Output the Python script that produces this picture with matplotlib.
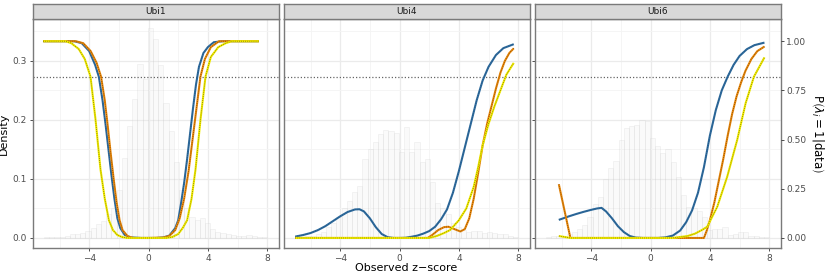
import numpy as np
import matplotlib.pyplot as plt

# facet titles
facets = ["Ubi1", "Ubi4", "Ubi6"]

# histogram bins (shared over facets), density values
bin_edges = np.arange(-7.05, 8.0 + 0.01, 0.35)
hist_ubi1 = [0.002, 0.001, 0.002, 0.002, 0.003, 0.006, 0.006, 0.008, 0.011, 0.017, 0.023,
             0.029, 0.040, 0.050, 0.081, 0.135, 0.190, 0.235, 0.295, 0.270, 0.355, 0.337,
             0.293, 0.228, 0.182, 0.129, 0.081, 0.050, 0.035, 0.031, 0.033, 0.025, 0.015,
             0.010, 0.008, 0.006, 0.005, 0.004, 0.003, 0.005, 0.003, 0.002, 0.001]
hist_ubi4 = [0.002, 0.002, 0.003, 0.004, 0.006, 0.010, 0.018, 0.025, 0.035, 0.050, 0.062,
             0.078, 0.088, 0.133, 0.150, 0.163, 0.177, 0.183, 0.182, 0.178, 0.146, 0.188,
             0.146, 0.163, 0.129, 0.133, 0.095, 0.060, 0.050, 0.040, 0.025, 0.018, 0.013,
             0.010, 0.012, 0.012, 0.008, 0.010, 0.008, 0.006, 0.006, 0.004, 0.002]
hist_ubi6 = [0.002, 0.003, 0.003, 0.004, 0.006, 0.010, 0.015, 0.022, 0.035, 0.058, 0.070,
             0.100, 0.118, 0.130, 0.166, 0.186, 0.190, 0.192, 0.200, 0.198, 0.169, 0.155,
             0.144, 0.151, 0.129, 0.104, 0.073, 0.053, 0.050, 0.045, 0.035, 0.014, 0.015,
             0.016, 0.019, 0.005, 0.007, 0.010, 0.010, 0.004, 0.003, 0.002, 0.001]

# posterior probability curves (right axis scale 0..1)
ubi1_blue_x = [-7.1, -5.0, -4.5, -4.0, -3.6, -3.35, -3.1, -2.9, -2.7, -2.5, -2.3, -2.1, -1.9,
               -1.6, -1.2, -0.5, 0.0, 0.5, 1.0, 1.4, 1.8, 2.0, 2.2, 2.4, 2.6, 2.8, 3.0, 3.2,
               3.4, 3.7, 4.0, 4.4, 5.0, 7.44]
ubi1_blue_p = [1.0, 1.0, 0.99, 0.95, 0.88, 0.82, 0.70, 0.58, 0.45, 0.32, 0.20, 0.10, 0.05,
               0.015, 0.003, 0.0, 0.0, 0.0, 0.003, 0.012, 0.05, 0.09, 0.18, 0.28, 0.40, 0.53,
               0.66, 0.78, 0.87, 0.94, 0.97, 0.995, 1.0, 1.0]
ubi1_orange_x = [-7.1, -4.9, -4.4, -3.9, -3.5, -3.2, -2.95, -2.75, -2.55, -2.35, -2.15, -1.95,
                 -1.75, -1.4, -1.0, 0.0, 1.0, 1.4, 1.8, 2.1, 2.4, 2.7, 2.9, 3.1, 3.3, 3.5,
                 3.8, 4.2, 4.75, 7.44]
ubi1_orange_p = [1.0, 1.0, 0.99, 0.95, 0.89, 0.82, 0.70, 0.57, 0.43, 0.30, 0.18, 0.09, 0.04,
                 0.008, 0.0, 0.0, 0.002, 0.01, 0.04, 0.10, 0.20, 0.34, 0.46, 0.58, 0.70, 0.82,
                 0.91, 0.97, 1.0, 1.0]
ubi1_yellow_x = [-7.1, -5.6, -5.2, -4.7, -4.3, -3.91, -3.57, -3.24, -2.95, -2.67, -2.4, -2.1,
                 -1.8, -1.44, -1.0, 0.0, 1.2, 1.6, 2.0, 2.3, 2.6, 2.9, 3.17, 3.5, 3.84, 4.2,
                 4.7, 5.2, 5.6, 7.44]
ubi1_yellow_p = [1.0, 1.0, 0.99, 0.96, 0.91, 0.82, 0.60, 0.35, 0.20, 0.09, 0.04, 0.015,
                 0.005, 0.0, 0.0, 0.0, 0.0, 0.005, 0.02, 0.05, 0.09, 0.2, 0.35, 0.6, 0.82,
                 0.92, 0.97, 0.99, 1.0, 1.0]

ubi4_blue_x = [-7.03, -6.5, -6.0, -5.5, -5.0, -4.5, -4.0, -3.5, -3.0, -2.7, -2.4, -2.0, -1.6,
               -1.2, -0.8, -0.4, 0.0, 0.4, 0.8, 1.2, 1.6, 2.0, 2.4, 2.8, 3.2, 3.6, 4.0, 4.4,
               4.8, 5.2, 5.6, 6.0, 6.5, 7.0, 7.7]
ubi4_blue_p = [0.007, 0.015, 0.025, 0.04, 0.06, 0.085, 0.11, 0.132, 0.145, 0.146, 0.135, 0.10,
               0.055, 0.02, 0.004, 0.0, 0.0, 0.001, 0.006, 0.012, 0.022, 0.035, 0.057, 0.095,
               0.145, 0.23, 0.34, 0.46, 0.58, 0.70, 0.80, 0.87, 0.93, 0.965, 0.985]
ubi4_orange_x = [-7.03, 1.9, 2.2, 2.6, 3.0, 3.3, 3.7, 4.1, 4.4, 4.7, 5.0, 5.3, 5.6, 5.9, 6.2,
                 6.5, 6.8, 7.1, 7.4, 7.7]
ubi4_orange_p = [0.0, 0.0, 0.015, 0.04, 0.055, 0.057, 0.045, 0.033, 0.045, 0.10, 0.20, 0.33,
                 0.47, 0.58, 0.67, 0.76, 0.84, 0.90, 0.94, 0.964]
ubi4_yellow_x = [-7.03, 2.0, 2.5, 3.0, 3.4, 4.0, 4.5, 5.0, 5.3, 5.6, 6.0, 6.4, 6.8, 7.2, 7.7]
ubi4_yellow_p = [0.0, 0.0, 0.01, 0.025, 0.04, 0.09, 0.15, 0.26, 0.36, 0.47, 0.58, 0.67, 0.75,
                 0.83, 0.89]

ubi6_blue_x = [-6.18, -5.5, -5.0, -4.5, -4.0, -3.6, -3.3, -3.0, -2.6, -2.2, -1.8, -1.4, -1.0,
               -0.5, 0.0, 0.5, 1.0, 1.5, 2.0, 2.4, 2.8, 3.2, 3.6, 4.0, 4.4, 4.8, 5.2, 5.6,
               6.0, 6.5, 7.0, 7.68]
ubi6_blue_p = [0.092, 0.11, 0.122, 0.133, 0.143, 0.15, 0.153, 0.135, 0.10, 0.06, 0.03, 0.01,
               0.002, 0.0, 0.0, 0.0, 0.003, 0.012, 0.038, 0.08, 0.14, 0.23, 0.36, 0.52, 0.65,
               0.75, 0.82, 0.88, 0.925, 0.96, 0.98, 0.993]
ubi6_orange_x = [-6.18, -5.4, 3.6, 3.8, 4.0, 4.3, 4.6, 4.9, 5.2, 5.5, 5.8, 6.1, 6.4, 6.8, 7.2,
                 7.68]
ubi6_orange_p = [0.273, 0.0, 0.0, 0.04, 0.09, 0.18, 0.29, 0.40, 0.52, 0.63, 0.72, 0.79, 0.85,
                 0.91, 0.95, 0.973]
ubi6_yellow_x = [-6.18, -5.4, 1.5, 2.5, 3.0, 3.5, 3.82, 4.5, 5.17, 5.84, 6.41, 6.97, 7.68]
ubi6_yellow_p = [0.01, 0.0, 0.0, 0.01, 0.022, 0.042, 0.057, 0.159, 0.312, 0.498, 0.685, 0.82,
                 0.918]

threshold = 0.82
scale = 3.0  # density = probability / 3

hists = [hist_ubi1, hist_ubi4, hist_ubi6]
curves = [
    [(ubi1_blue_x, ubi1_blue_p), (ubi1_orange_x, ubi1_orange_p), (ubi1_yellow_x, ubi1_yellow_p)],
    [(ubi4_blue_x, ubi4_blue_p), (ubi4_orange_x, ubi4_orange_p), (ubi4_yellow_x, ubi4_yellow_p)],
    [(ubi6_blue_x, ubi6_blue_p), (ubi6_orange_x, ubi6_orange_p), (ubi6_yellow_x, ubi6_yellow_p)],
]
line_cols = ["#2E6B9E", "#E8870A", "#F2EC00"]
dot_cols = ["#1E4A70", "#5A2E00", "#4A4400"]

W, H = 830, 277
fig = plt.figure(figsize=(W / 100, H / 100), dpi=100)
lefts = [32.5, 283.5, 534.5]
pw = 246
top, bottom = 19, 248

grey_txt = "#4D4D4D"
for i, name in enumerate(facets):
    ax = fig.add_axes([lefts[i] / W, (H - bottom) / H, pw / W, (bottom - top) / H])
    ax.set_xlim(-7.82, 8.76)
    ax.set_ylim(-0.017, 0.371)
    ax.set_xticks([-4, 0, 4, 8])
    ax.set_xticks([-6, -2, 2, 6], minor=True)
    ax.set_yticks([0.0, 0.1, 0.2, 0.3])
    ax.set_yticks([0.05, 0.15, 0.25, 0.35], minor=True)
    ax.grid(which="major", color="#EBEBEB", lw=0.9)
    ax.grid(which="minor", color="#F4F4F4", lw=0.6)
    ax.set_axisbelow(True)
    for s in ax.spines.values():
        s.set_color("#7A7A7A")
        s.set_linewidth(1.0)
    ax.tick_params(which="major", length=2.5, width=0.6, color="#333333",
                   labelsize=6.5, labelcolor=grey_txt, pad=1.5)
    ax.tick_params(which="minor", length=0)
    ax.set_xticklabels(["\u22124", "0", "4", "8"])
    if i == 0:
        ax.set_yticklabels(["0.0", "0.1", "0.2", "0.3"])
        ax.set_ylabel("Density", fontsize=8, labelpad=3)
    else:
        ax.tick_params(axis="y", which="both", left=False, labelleft=False)

    ax.bar(bin_edges[:-1], hists[i], width=np.diff(bin_edges), align="edge",
           facecolor=(0.92, 0.92, 0.92, 0.22), edgecolor=(0.78, 0.78, 0.78, 0.22), lw=0.6)
    ax.axhline(threshold / scale, color="#666666", lw=0.9, ls=(0, (1, 1.6)))
    for (cx, cp), lc, dc in zip(curves[i], line_cols, dot_cols):
        cy = np.array(cp) / scale
        ax.plot(cx, cy, color=lc, lw=1.5, solid_capstyle="butt")
        ax.plot(cx, cy, color=dc, lw=0.6, ls=(0, (1, 1.5)), alpha=0.7)

    if i == 2:
        ax2 = ax.twinx()
        ax2.set_ylim(-0.017 * scale, 0.371 * scale)
        ax2.set_yticks([0.0, 0.25, 0.5, 0.75, 1.0])
        ax2.set_yticklabels(["0.00", "0.25", "0.50", "0.75", "1.00"])
        ax2.tick_params(length=2.5, width=0.6, color="#333333", labelsize=6.5,
                        labelcolor=grey_txt, pad=1.5)
        for s in ax2.spines.values():
            s.set_visible(False)
        ax2.set_ylabel(r"$\mathrm{P}\left(\lambda_{i}=1|\mathrm{data}\right)$",
                       fontsize=8.5, rotation=270, labelpad=14)

    # strip
    sax = fig.add_axes([lefts[i] / W, (H - top) / H, pw / W, 15 / H])
    sax.set_facecolor("#D9D9D9")
    sax.set_xticks([])
    sax.set_yticks([])
    for s in sax.spines.values():
        s.set_color("#7A7A7A")
        s.set_linewidth(1.0)
    sax.text(0.5, 0.5, name, ha="center", va="center", fontsize=6.5, color="#1A1A1A",
             transform=sax.transAxes)

fig.text((32.5 + 780.5) / 2 / W, 1 - 268 / H, "Observed z\u2212score", ha="center",
         va="center", fontsize=8)

plt.savefig("out.png", dpi=100)
